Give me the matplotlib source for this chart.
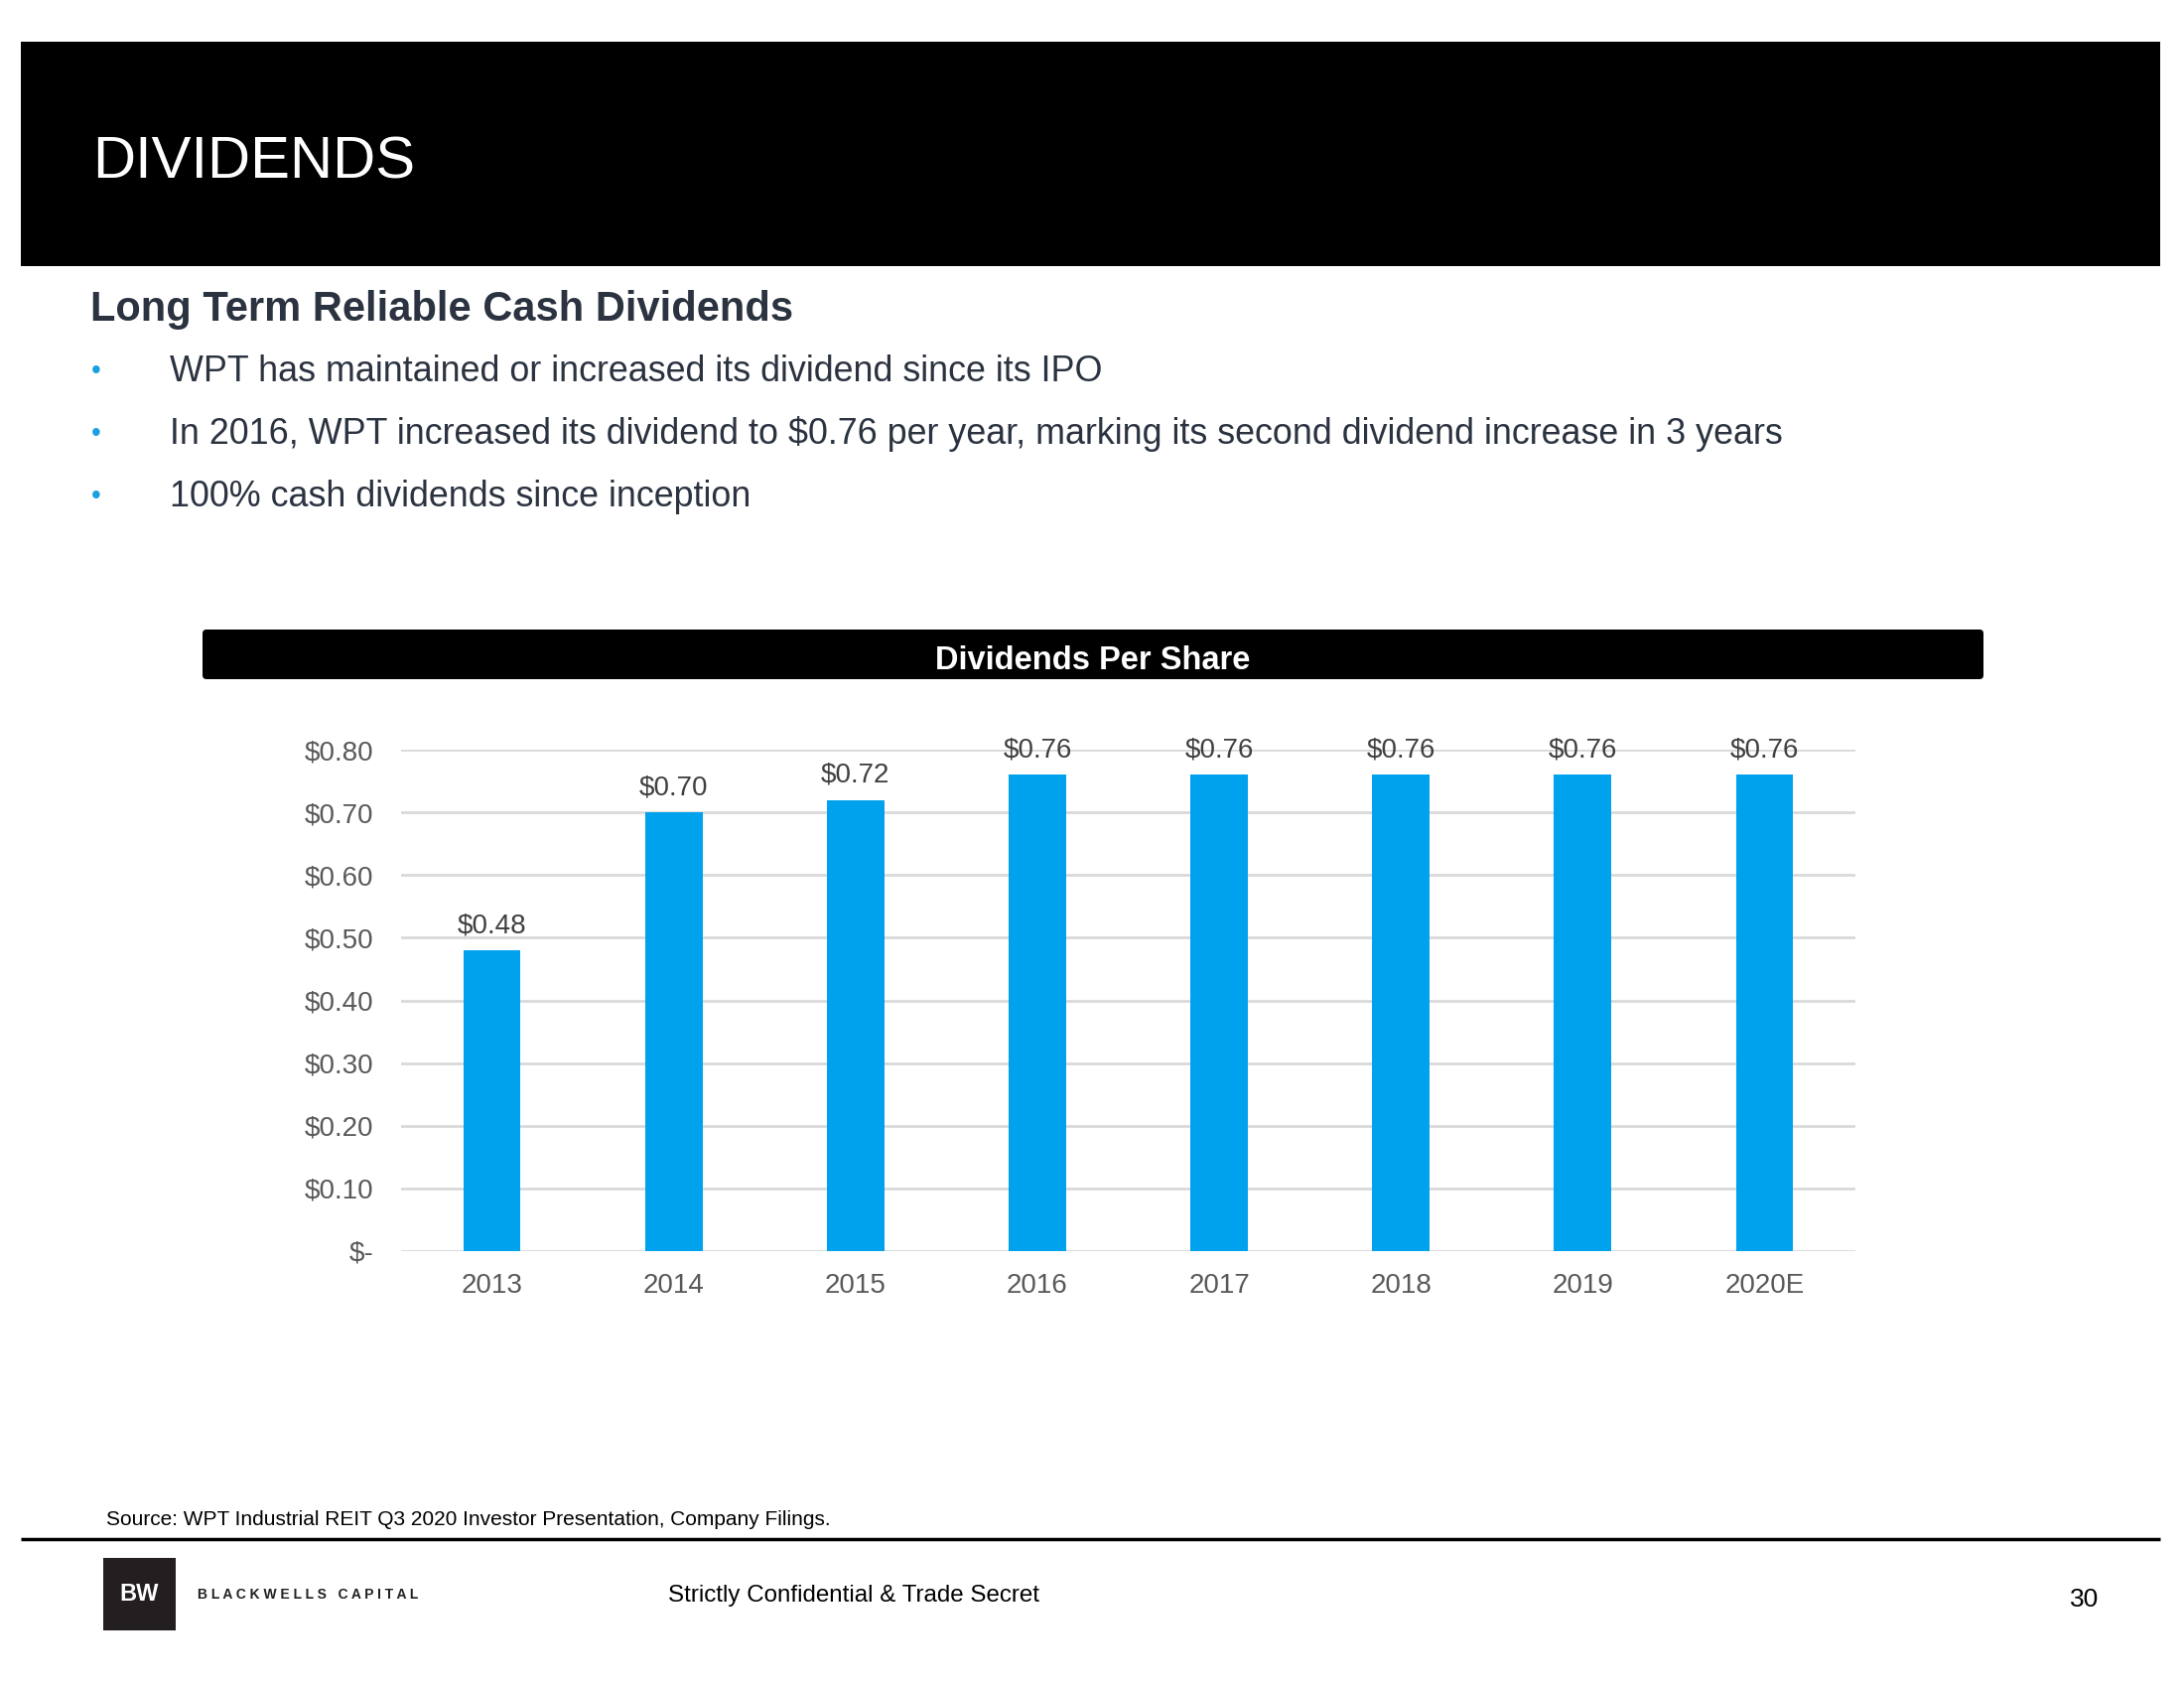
import matplotlib
matplotlib.use("Agg")
import matplotlib.pyplot as plt
from matplotlib.patches import Rectangle, FancyBboxPatch

plt.rcParams['font.family'] = ['Liberation Sans', 'DejaVu Sans']

# ---- data ----
years = ["2013", "2014", "2015", "2016", "2017", "2018", "2019", "2020E"]
dividends = [0.48, 0.70, 0.72, 0.76, 0.76, 0.76, 0.76, 0.76]
value_labels = ["$0.48", "$0.70", "$0.72", "$0.76", "$0.76", "$0.76", "$0.76", "$0.76"]
y_ticks = [0.0, 0.1, 0.2, 0.3, 0.4, 0.5, 0.6, 0.7, 0.8]
y_tick_labels = ["$-", "$0.10", "$0.20", "$0.30", "$0.40", "$0.50", "$0.60", "$0.70", "$0.80"]
title = "DIVIDENDS"
subtitle = "Long Term Reliable Cash Dividends"
bullets = [
    "WPT has maintained or increased its dividend since its IPO",
    "In 2016, WPT increased its dividend to $0.76 per year, marking its second dividend increase in 3 years",
    "100% cash dividends since inception",
]
chart_title = "Dividends Per Share"
source = "Source: WPT Industrial REIT Q3 2020 Investor Presentation, Company Filings."
footer_center = "Strictly Confidential & Trade Secret"
page_no = "30"

W, H = 2200, 1700
fig = plt.figure(figsize=(22, 17), dpi=100)
fig.patch.set_facecolor("white")

# overlay axes in pixel coordinates (y down)
ov = fig.add_axes([0, 0, 1, 1])
ov.set_xlim(0, W)
ov.set_ylim(H, 0)
ov.axis("off")

# header band
ov.add_patch(Rectangle((21, 42), 2155, 226, facecolor="black", edgecolor="none"))
ov.text(93, 164, title, color="white", fontsize=43, va="center", ha="left")

# subtitle & bullets
ov.text(91, 312, subtitle, color="#2b3340", fontsize=30, fontweight="bold", va="center", ha="left")
for i, b in enumerate(bullets):
    y = 374 + i * 63
    ov.text(97, y, "\u2022", color="#1a9fe0", fontsize=20, va="center", ha="center")
    ov.text(171, y, b, color="#2b3340", fontsize=25.8, va="center", ha="left")

# chart title bar
ov.add_patch(FancyBboxPatch((204, 634), 1794, 50, boxstyle="round,pad=0,rounding_size=4",
                            facecolor="black", edgecolor="none"))
ov.text(1101, 665, chart_title, color="white", fontsize=23.5, fontweight="bold",
        va="center", ha="center")

# source & footer
ov.text(107, 1530, source, color="black", fontsize=15, va="center", ha="left")
ov.plot([21, 2176], [1550, 1550], color="black", lw=2.5, solid_capstyle="butt")
ov.add_patch(Rectangle((104, 1569), 73, 73, facecolor="#231f20", edgecolor="none"))
ov.text(140.5, 1605, "BW", color="white", fontsize=17, fontweight="bold", va="center", ha="center")
ov.text(199, 1606, "B L A C K W E L L S   C A P I T A L", color="#231f20", fontsize=10,
        fontweight="bold", va="center", ha="left")
ov.text(673, 1607, footer_center, color="black", fontsize=17.4, va="center", ha="left")
ov.text(2114, 1611, page_no, color="black", fontsize=19, va="center", ha="right")

# chart axes
left, right = 404 / W, 1869 / W
bottom, top = (H - 1260) / H, (H - 755) / H
ax = fig.add_axes([left, bottom, right - left, top - bottom])
x = list(range(len(years)))
ax.bar(x, dividends, width=0.315, color="#00A2ED", zorder=3)
ax.set_xlim(-0.5, len(years) - 0.5)
ax.set_ylim(0, 0.8)
ax.set_yticks(y_ticks)
ax.set_yticklabels(y_tick_labels)
ax.set_xticks(x)
ax.set_xticklabels(years)
ax.tick_params(axis="both", length=0, labelsize=20, labelcolor="#595959")
ax.tick_params(axis="y", pad=20)
ax.tick_params(axis="x", pad=16)
ax.grid(axis="y", color="#d9d9d9", lw=2, zorder=0)
for s in ax.spines.values():
    s.set_visible(False)
for xi, v, lab in zip(x, dividends, value_labels):
    ax.annotate(lab, (xi, v), xytext=(0, 8.5), textcoords="offset points",
                ha="center", va="bottom", fontsize=20, color="#404040", clip_on=False)

fig.savefig("out.png", dpi=100, facecolor="white")
